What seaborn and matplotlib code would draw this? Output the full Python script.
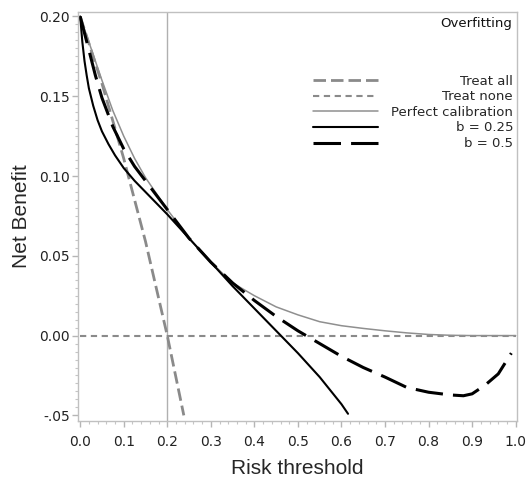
import matplotlib
matplotlib.use('Agg')
import matplotlib.pyplot as plt
import seaborn as sns
from matplotlib.lines import Line2D
from matplotlib.ticker import MultipleLocator

# Net benefit curves (prevalence 0.2)
thr_all = [0.0, 0.05, 0.10, 0.15, 0.20, 0.238]
nb_all = [0.200, 0.158, 0.111, 0.059, 0.000, -0.050]

thr_none = [0.0, 1.0]
nb_none = [0.0, 0.0]

thr_perfect = [0.0, 0.02, 0.05, 0.075, 0.10, 0.125, 0.15, 0.175, 0.20, 0.25, 0.30,
               0.35, 0.40, 0.45, 0.50, 0.55, 0.60, 0.65, 0.70, 0.75, 0.80, 0.85,
               0.90, 0.95, 1.0]
nb_perfect = [0.200, 0.184, 0.160, 0.141, 0.125, 0.111, 0.099, 0.089, 0.079, 0.061, 0.046,
              0.033, 0.025, 0.018, 0.013, 0.0087, 0.0062, 0.0045, 0.003, 0.0017, 0.0007, 0.0002,
              0.0, 0.0, 0.0]

thr_b025 = [0.0, 0.005, 0.01, 0.015, 0.02, 0.03, 0.04, 0.05, 0.065, 0.08, 0.10, 0.125, 0.15,
            0.175, 0.20, 0.25, 0.30, 0.35, 0.40, 0.45, 0.50, 0.55, 0.60, 0.615]
nb_b025 = [0.200, 0.184, 0.172, 0.163, 0.155, 0.144, 0.135, 0.128, 0.120, 0.113, 0.105, 0.097, 0.090,
           0.083, 0.076, 0.061, 0.046, 0.031, 0.017, 0.003, -0.011, -0.026, -0.043, -0.049]

thr_b05 = [0.0, 0.02, 0.035, 0.05, 0.075, 0.10, 0.125, 0.15, 0.175, 0.20, 0.25, 0.30, 0.35, 0.40,
           0.45, 0.50, 0.55, 0.60, 0.65, 0.70, 0.75, 0.80, 0.85, 0.88, 0.90, 0.93, 0.96, 0.99]
nb_b05 = [0.200, 0.179, 0.163, 0.149, 0.131, 0.117, 0.106, 0.097, 0.088, 0.079, 0.061, 0.046, 0.033,
          0.022, 0.012, 0.003, -0.005, -0.013, -0.020, -0.026, -0.0325, -0.0355, -0.0372, -0.0377,
          -0.0365, -0.031, -0.024, -0.011]

x_ticks = [0.0, 0.1, 0.2, 0.3, 0.4, 0.5, 0.6, 0.7, 0.8, 0.9, 1.0]
x_tick_labels = ['0.0', '0.1', '0.2', '0.3', '0.4', '0.5', '0.6', '0.7', '0.8', '0.9', '1.0']
y_ticks = [-0.05, 0.0, 0.05, 0.10, 0.15, 0.20]
y_tick_labels = ['-.05', '0.00', '0.05', '0.10', '0.15', '0.20']

legend_labels = ['Treat all', 'Treat none', 'Perfect calibration', 'b = 0.25', 'b = 0.5']

sns.set_style('white')
plt.rcParams['font.family'] = ['DejaVu Sans']

fig = plt.figure(figsize=(5.32, 4.8), dpi=100)
ax = fig.add_axes([0.1466, 0.123, 0.8252, 0.852])

gray = '#8a8a8a'
styles = {
    'Treat all': dict(color=gray, lw=2.0, ls=(0, (4.5, 1.8))),
    'Treat none': dict(color=gray, lw=1.5, ls=(0, (3, 2.2))),
    'Perfect calibration': dict(color='#8f8f8f', lw=1.1, ls='-'),
    'b = 0.25': dict(color='black', lw=1.5, ls='-'),
    'b = 0.5': dict(color='black', lw=2.2, ls=(0, (9, 3.3))),
}

ax.axvline(0.2, color='#b0b0b0', lw=1.0, zorder=1)

series = [
    ('Treat none', thr_none, nb_none),
    ('Treat all', thr_all, nb_all),
    ('Perfect calibration', thr_perfect, nb_perfect),
    ('b = 0.25', thr_b025, nb_b025),
    ('b = 0.5', thr_b05, nb_b05),
]
for name, xs, ys in series:
    st = styles[name]
    sns.lineplot(x=xs, y=ys, ax=ax, color=st['color'], linewidth=st['lw'],
                 linestyle=st['ls'], estimator=None, sort=False)

ax.set_xlim(-0.005, 1.003)
ax.set_ylim(-0.0535, 0.2028)

ax.set_xticks(x_ticks)
ax.set_xticklabels(x_tick_labels)
ax.set_yticks(y_ticks)
ax.set_yticklabels(y_tick_labels)
ax.xaxis.set_minor_locator(MultipleLocator(0.02))
ax.yaxis.set_minor_locator(MultipleLocator(0.005))
ax.tick_params(axis='both', which='major', direction='out', length=4, width=1,
               color='#b5b5b5', labelsize=10, labelcolor='#222222',
               bottom=True, left=True)
ax.tick_params(axis='x', which='major', pad=6)
ax.tick_params(axis='y', which='major', pad=2)
ax.tick_params(axis='both', which='minor', direction='out', length=2.5, width=0.8,
               color='#c5c5c5', bottom=True, left=True)

for sp in ax.spines.values():
    sp.set_color('#c0c0c0')
    sp.set_linewidth(1.0)

ax.set_xlabel('Risk threshold', family=['Liberation Sans'], fontsize=15, labelpad=7)
ax.set_ylabel('Net Benefit', family=['Liberation Sans'], fontsize=15, labelpad=6)

ax.text(0.989, 0.971, 'Overfitting', transform=ax.transAxes, ha='right', va='center',
        fontsize=9.5, color='#111111')

handles = [Line2D([], [], color=styles[n]['color'], lw=styles[n]['lw'], ls=styles[n]['ls'])
           for n in legend_labels]
leg = ax.legend(handles, legend_labels, loc='upper right', bbox_to_anchor=(0.991, 0.847),
                frameon=False, fontsize=9.5, handlelength=4.9, labelspacing=0.2,
                borderpad=0, borderaxespad=0, handletextpad=0.5)
# keep handles in a left column and right-align the labels
for row in leg._legend_handle_box.get_children()[0].get_children():
    row.mode = 'expand'
    row.width = 200

fig.savefig('out.png', dpi=100)
